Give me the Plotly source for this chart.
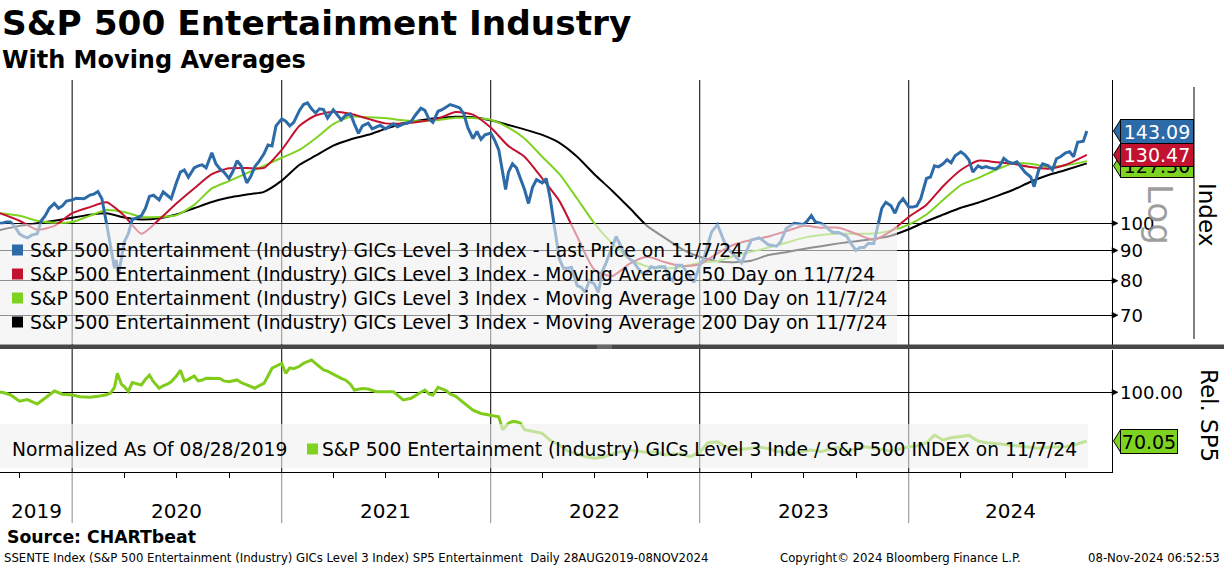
import math
import plotly.graph_objects as go

W, H = 1224, 566

# ---------------- data ----------------
price = [
    ("2019-08-28", 100), ("2019-09-01", 100), ("2019-09-08", 100.5), ("2019-09-15", 100.5), ("2019-09-22", 99),
    ("2019-10-01", 96), ("2019-10-08", 95), ("2019-10-15", 94.5), ("2019-10-22", 95.5), ("2019-11-01", 96),
    ("2019-11-08", 101), ("2019-11-15", 103), ("2019-11-22", 106), ("2019-12-01", 108), ("2019-12-08", 106),
    ("2019-12-15", 107), ("2019-12-22", 109),
    ("2020-01-01", 109.5), ("2020-01-08", 110.2), ("2020-01-15", 110), ("2020-01-22", 110), ("2020-02-01", 111.6),
    ("2020-02-08", 112), ("2020-02-15", 113.1), ("2020-02-22", 110), ("2020-03-01", 100), ("2020-03-08", 91.3),
    ("2020-03-15", 84), ("2020-03-18", 86.7), ("2020-03-22", 81.8), ("2020-04-01", 93), ("2020-04-08", 96),
    ("2020-04-15", 101.5), ("2020-04-22", 102), ("2020-05-01", 103), ("2020-05-08", 106), ("2020-05-15", 111),
    ("2020-05-22", 111.5), ("2020-06-01", 109.5), ("2020-06-08", 113), ("2020-06-15", 111.5), ("2020-06-22", 110),
    ("2020-07-01", 117), ("2020-07-08", 122), ("2020-07-15", 123), ("2020-07-22", 119.6), ("2020-08-01", 124),
    ("2020-08-08", 125), ("2020-08-15", 125.5), ("2020-08-22", 124), ("2020-09-01", 131.5), ("2020-09-08", 126),
    ("2020-09-15", 123.5), ("2020-09-22", 122), ("2020-10-01", 119), ("2020-10-08", 122.5), ("2020-10-15", 127.5),
    ("2020-10-22", 125), ("2020-11-01", 117), ("2020-11-08", 120), ("2020-11-15", 124.6), ("2020-11-22", 127),
    ("2020-12-01", 131), ("2020-12-08", 135.5), ("2020-12-15", 135), ("2020-12-22", 146),
    ("2021-01-01", 150), ("2021-01-08", 148.6), ("2021-01-15", 146), ("2021-01-22", 148), ("2021-02-01", 155),
    ("2021-02-08", 158.6), ("2021-02-15", 159.6), ("2021-02-22", 156), ("2021-03-01", 153.5), ("2021-03-08", 156),
    ("2021-03-15", 155.5), ("2021-03-22", 150.5), ("2021-04-01", 155.4), ("2021-04-08", 152), ("2021-04-15", 149.4),
    ("2021-04-22", 152), ("2021-05-01", 153), ("2021-05-08", 147), ("2021-05-15", 141.8), ("2021-05-22", 146),
    ("2021-06-01", 147.5), ("2021-06-08", 144.3), ("2021-06-15", 145.5), ("2021-06-22", 146.3), ("2021-07-01", 144.3),
    ("2021-07-08", 146), ("2021-07-15", 147.2), ("2021-07-22", 145.5), ("2021-08-01", 147), ("2021-08-08", 147.5),
    ("2021-08-15", 148.5), ("2021-08-22", 152), ("2021-09-01", 156.3), ("2021-09-08", 155), ("2021-09-15", 150),
    ("2021-09-22", 148), ("2021-10-01", 154.5), ("2021-10-08", 155.4), ("2021-10-15", 157), ("2021-10-22", 158.6),
    ("2021-11-01", 157.5), ("2021-11-08", 156.5), ("2021-11-15", 153), ("2021-11-22", 145), ("2021-12-01", 139),
    ("2021-12-08", 142.8), ("2021-12-15", 138.5), ("2021-12-22", 141),
    ("2022-01-01", 142), ("2022-01-08", 138), ("2022-01-15", 133), ("2022-01-22", 122), ("2022-01-27", 114),
    ("2022-02-01", 122), ("2022-02-08", 126), ("2022-02-15", 124), ("2022-02-22", 119), ("2022-03-01", 114),
    ("2022-03-08", 108), ("2022-03-15", 115), ("2022-03-22", 118.5), ("2022-04-01", 117), ("2022-04-08", 119),
    ("2022-04-15", 110), ("2022-04-22", 99), ("2022-05-01", 87), ("2022-05-08", 84), ("2022-05-15", 84),
    ("2022-05-22", 84.3), ("2022-06-01", 78.5), ("2022-06-08", 78), ("2022-06-15", 76.5), ("2022-06-22", 80),
    ("2022-07-01", 79), ("2022-07-08", 76.5), ("2022-07-15", 83), ("2022-07-22", 86), ("2022-08-01", 91),
    ("2022-08-08", 95), ("2022-08-15", 92), ("2022-08-22", 89), ("2022-09-01", 87), ("2022-09-08", 86),
    ("2022-09-15", 84), ("2022-09-22", 82.5), ("2022-10-01", 82.5), ("2022-10-08", 84.5), ("2022-10-15", 84),
    ("2022-10-22", 84.5), ("2022-11-01", 84.5), ("2022-11-08", 81), ("2022-11-15", 80), ("2022-11-22", 85),
    ("2022-12-01", 85), ("2022-12-08", 83), ("2022-12-15", 81), ("2022-12-22", 79.5),
    ("2023-01-01", 85), ("2023-01-08", 87), ("2023-01-15", 92), ("2023-01-22", 96.8), ("2023-02-01", 99.5),
    ("2023-02-08", 96), ("2023-02-15", 92), ("2023-02-22", 90), ("2023-03-01", 88.5), ("2023-03-08", 87),
    ("2023-03-15", 85.8), ("2023-03-22", 89), ("2023-04-01", 93.7), ("2023-04-15", 94.5), ("2023-05-01", 92),
    ("2023-05-15", 91.5), ("2023-05-22", 93), ("2023-06-01", 98), ("2023-06-08", 99), ("2023-06-15", 100),
    ("2023-07-01", 99.5), ("2023-07-08", 101), ("2023-07-15", 103), ("2023-07-22", 100.5), ("2023-08-01", 100),
    ("2023-08-08", 99), ("2023-08-15", 97.5), ("2023-08-22", 96.5), ("2023-09-01", 96.5), ("2023-09-15", 95),
    ("2023-09-22", 92.5), ("2023-10-01", 90), ("2023-10-08", 91), ("2023-10-15", 91), ("2023-10-22", 92.5),
    ("2023-11-01", 92.5), ("2023-11-08", 99), ("2023-11-15", 106), ("2023-11-22", 108.5), ("2023-12-01", 107),
    ("2023-12-08", 104), ("2023-12-15", 108), ("2023-12-22", 110),
    ("2024-01-01", 106.5), ("2024-01-08", 106.5), ("2024-01-15", 107), ("2024-01-22", 110), ("2024-02-01", 119),
    ("2024-02-08", 119.7), ("2024-02-15", 125), ("2024-02-22", 124.5), ("2024-03-01", 126), ("2024-03-08", 128),
    ("2024-03-15", 126.5), ("2024-03-22", 130), ("2024-04-01", 132), ("2024-04-08", 130.5), ("2024-04-15", 128),
    ("2024-04-22", 122), ("2024-05-01", 125), ("2024-05-08", 124), ("2024-05-15", 124.6), ("2024-05-22", 124),
    ("2024-06-01", 123.5), ("2024-06-08", 125), ("2024-06-15", 128.7), ("2024-06-22", 127), ("2024-07-01", 126.2),
    ("2024-07-08", 127), ("2024-07-15", 124.5), ("2024-07-22", 122), ("2024-08-01", 119.7), ("2024-08-07", 115.3),
    ("2024-08-15", 123), ("2024-08-22", 126), ("2024-09-01", 125), ("2024-09-08", 123), ("2024-09-15", 128.5),
    ("2024-09-22", 129.5), ("2024-10-01", 131.5), ("2024-10-08", 132), ("2024-10-15", 129.5), ("2024-10-22", 137),
    ("2024-11-01", 137.5), ("2024-11-07", 143.09),
]

ma_dates = [
    "2019-08-28", "2019-10-01", "2019-11-01", "2019-12-01",
    "2020-01-01", "2020-02-01", "2020-03-01", "2020-04-01", "2020-05-01", "2020-06-01",
    "2020-07-01", "2020-08-01", "2020-09-01", "2020-10-01", "2020-11-01", "2020-12-01",
    "2021-01-01", "2021-02-01", "2021-03-01", "2021-04-01", "2021-05-01", "2021-06-01",
    "2021-07-01", "2021-08-01", "2021-09-01", "2021-10-01", "2021-11-01", "2021-12-01",
    "2022-01-01", "2022-02-01", "2022-03-01", "2022-04-01", "2022-05-01", "2022-06-01",
    "2022-07-01", "2022-08-01", "2022-09-01", "2022-10-01", "2022-11-01", "2022-12-01",
    "2023-01-01", "2023-02-01", "2023-03-01", "2023-04-01", "2023-05-01", "2023-06-01",
    "2023-07-01", "2023-08-01", "2023-09-01", "2023-10-01", "2023-11-01", "2023-12-01",
    "2024-01-01", "2024-02-01", "2024-03-01", "2024-04-01", "2024-05-01", "2024-06-01",
    "2024-07-01", "2024-08-01", "2024-09-01", "2024-10-01", "2024-11-07",
]
ma50 = [
    104, 101, 97.5, 99,
    104, 106.5, 108.5, 103, 96, 101.5,
    108, 114.5, 121, 123.8, 124, 124,
    133, 146, 152, 154.2, 153, 150,
    147.4, 147.4, 148.5, 150.3, 154, 152.5,
    145, 135, 129.5, 119, 109, 95,
    83.5, 81.5, 85.5, 87.8, 86, 84.7,
    85.3, 89, 92, 93.7, 95, 97,
    99, 98.3, 98.3, 96, 93.8, 97,
    102.5, 107.5, 115.5, 123, 127.5, 126.8,
    126, 124.4, 123.6, 125.5, 130.47,
]
ma100 = [
    104, 103, 101, 100.2,
    100.5, 103, 105.3, 104.5, 102.5, 102.5,
    103.2, 107.4, 114.5, 117.8, 121.5, 125,
    129, 133, 139, 147, 151.3, 151,
    150.5, 149.2, 148.6, 149.4, 150.6, 150.5,
    149.5, 145, 139, 129.5, 121, 110,
    100, 92.5, 87, 84.6, 84, 84.5,
    85.8, 86.4, 88, 89.5, 91, 92.7,
    94.5, 95.6, 96, 96, 96.1, 97.2,
    99.5, 103.5, 109.5, 116, 119.2, 123,
    126.2, 126, 124.5, 125.2, 127.3,
]
ma200 = [
    97.4, 99, 100, 101,
    102.2, 103.4, 104, 102.3, 101.5, 102,
    103.5, 106, 108.6, 110.5, 111.8, 113,
    118, 125.5, 130, 135.2, 138.5, 141,
    144.3, 147.5, 149.2, 150.5, 151.2, 151,
    149.2, 146.5, 144, 141, 136.7, 129.5,
    121, 113.5, 106, 99, 94.5, 90.5,
    87.8, 86.3, 86, 86.5, 88.4, 89.4,
    90.5, 91.5, 92.5, 93.3, 94.1, 95.3,
    97.7, 100.8, 103.4, 106.2, 108.3, 111,
    113.8, 117.5, 120.6, 123, 126.2,
]

rel = [
    ("2019-08-28", 100), ("2019-09-01", 100), ("2019-09-15", 98.5), ("2019-10-01", 94.5), ("2019-10-15", 95.5),
    ("2019-11-01", 92.8), ("2019-11-15", 96.5), ("2019-12-01", 100.8), ("2019-12-15", 98.8),
    ("2020-01-01", 98.3), ("2020-01-15", 97.3), ("2020-02-01", 97), ("2020-02-15", 97.5), ("2020-03-01", 98.5),
    ("2020-03-08", 99.5), ("2020-03-15", 103), ("2020-03-20", 111.7), ("2020-03-27", 105), ("2020-04-01", 103.5),
    ("2020-04-08", 100.5), ("2020-04-15", 106), ("2020-04-22", 105.5), ("2020-05-01", 104.5), ("2020-05-08", 108),
    ("2020-05-15", 110.5), ("2020-05-22", 106.5), ("2020-06-01", 102.5), ("2020-06-08", 104), ("2020-06-15", 105),
    ("2020-06-22", 106.5), ("2020-07-01", 110), ("2020-07-08", 113.5), ("2020-07-15", 107), ("2020-07-22", 108),
    ("2020-08-01", 110), ("2020-08-08", 107), ("2020-08-15", 107.5), ("2020-08-22", 108.6), ("2020-09-01", 108.6),
    ("2020-09-15", 108.5), ("2020-09-22", 107), ("2020-10-01", 106.5), ("2020-10-15", 107.6), ("2020-10-22", 106),
    ("2020-11-01", 104.5), ("2020-11-08", 103.5), ("2020-11-15", 102.5), ("2020-11-22", 104), ("2020-12-01", 105.5),
    ("2020-12-08", 110), ("2020-12-15", 114.8), ("2020-12-22", 116),
    ("2021-01-01", 117.8), ("2021-01-08", 111.7), ("2021-01-15", 115), ("2021-01-22", 114.5), ("2021-02-01", 116),
    ("2021-02-08", 117.8), ("2021-02-15", 119), ("2021-02-22", 119.9), ("2021-03-01", 117.8), ("2021-03-08", 116),
    ("2021-03-15", 113.7), ("2021-03-22", 113), ("2021-04-01", 111), ("2021-04-08", 109.5), ("2021-04-15", 108.6),
    ("2021-04-22", 107.6), ("2021-05-01", 105), ("2021-05-08", 101.4), ("2021-05-15", 101.8), ("2021-05-22", 102.3),
    ("2021-06-01", 102), ("2021-06-15", 100.4), ("2021-07-01", 100.4), ("2021-07-15", 100.4), ("2021-08-01", 95.3),
    ("2021-08-15", 96.3), ("2021-09-01", 100), ("2021-09-08", 101.4), ("2021-09-15", 99), ("2021-09-22", 98.3),
    ("2021-10-01", 103), ("2021-10-15", 101), ("2021-10-22", 99), ("2021-11-01", 97.5), ("2021-11-15", 93.5),
    ("2021-12-01", 89), ("2021-12-15", 87),
    ("2022-01-01", 86), ("2022-01-08", 85.5), ("2022-01-15", 85), ("2022-01-22", 77), ("2022-02-01", 81),
    ("2022-02-08", 82), ("2022-02-15", 81.9), ("2022-02-22", 81), ("2022-03-01", 77), ("2022-03-15", 76),
    ("2022-04-01", 74.8), ("2022-04-15", 70.5), ("2022-05-01", 67.6), ("2022-05-15", 64), ("2022-06-01", 62),
    ("2022-06-15", 60.5), ("2022-07-01", 59.4), ("2022-07-15", 60), ("2022-08-01", 62), ("2022-08-15", 63.5),
    ("2022-09-01", 64.5), ("2022-09-15", 63.8), ("2022-10-01", 63), ("2022-10-15", 63.5), ("2022-11-01", 61.5),
    ("2022-11-15", 62), ("2022-12-01", 62), ("2022-12-15", 60.5),
    ("2023-01-01", 63), ("2023-01-15", 69), ("2023-02-01", 69.5), ("2023-02-15", 66.5), ("2023-03-01", 64.5),
    ("2023-03-15", 65), ("2023-04-01", 65.6), ("2023-04-15", 66.2), ("2023-05-01", 65.5), ("2023-05-15", 63.8),
    ("2023-06-01", 63), ("2023-06-15", 62.5), ("2023-07-01", 63.8), ("2023-07-15", 64.5), ("2023-08-01", 63.5),
    ("2023-08-15", 65), ("2023-09-01", 66), ("2023-09-15", 64), ("2023-10-01", 65), ("2023-10-15", 66.5),
    ("2023-11-01", 65.8), ("2023-11-15", 65), ("2023-12-01", 63.8), ("2023-12-15", 65),
    ("2024-01-01", 66.5), ("2024-01-15", 67), ("2024-02-01", 69), ("2024-02-15", 73.7), ("2024-03-01", 70.7),
    ("2024-03-15", 72), ("2024-04-01", 72.7), ("2024-04-15", 73.5), ("2024-05-01", 70), ("2024-05-15", 69),
    ("2024-06-01", 68.5), ("2024-06-15", 68), ("2024-07-01", 67), ("2024-07-15", 66.5), ("2024-08-01", 66),
    ("2024-08-15", 65.6), ("2024-09-01", 66.2), ("2024-09-15", 66.5), ("2024-10-01", 66.5), ("2024-10-15", 67.5),
    ("2024-11-01", 69.2), ("2024-11-07", 70.05),
]

price_dates = [d for d, _ in price]
price_vals = [v for _, v in price]
rel_dates = [d for d, _ in rel]
rel_vals = [v for _, v in rel]

year_starts = ["2020-01-01", "2021-01-01", "2022-01-01", "2023-01-01", "2024-01-01"]
year_labels = ["2019", "2020", "2021", "2022", "2023", "2024"]
year_label_at = ["2019-10-30", "2020-07-02", "2021-07-02", "2022-07-02", "2023-07-02", "2024-06-26"]
price_ticks = [70, 80, 90, 100]
rel_ticks = [100]

last_price, last_ma50, last_ma100 = 143.09, 130.47, 127.3
last_rel = 70.05

# ---------------- geometry ----------------
X_START, X_END = "2019-08-28", "2024-12-21"
PLOT_R = 1112
TOP0, TOP1 = 80, 345
BOT0, BOT1 = 350, 472
LOG_HI, LOG_LO = 2.24165, 1.79477
REL_LO, REL_HI = 51.0, 126.0

FONT = "DejaVu Sans"
BLUE, RED, GREEN, BLACK = "#2c6aa8", "#c3122f", "#7ed321", "#000000"


def fx(p):
    return p / W


def fy(p):
    return 1 - p / H


def top_px(v):
    return TOP0 + (LOG_HI - math.log10(v)) / (LOG_HI - LOG_LO) * (TOP1 - TOP0)


def bot_px(v):
    return BOT0 + (REL_HI - v) / (REL_HI - REL_LO) * (BOT1 - BOT0)


fig = go.Figure()
fig.add_trace(go.Scatter(x=ma_dates, y=ma200, mode="lines", line=dict(color=BLACK, width=2, shape="spline", smoothing=0.6),
                         xaxis="x", yaxis="y", hoverinfo="skip"))
fig.add_trace(go.Scatter(x=ma_dates, y=ma100, mode="lines", line=dict(color=GREEN, width=2, shape="spline", smoothing=0.6),
                         xaxis="x", yaxis="y", hoverinfo="skip"))
fig.add_trace(go.Scatter(x=ma_dates, y=ma50, mode="lines", line=dict(color=RED, width=2, shape="spline", smoothing=0.6),
                         xaxis="x", yaxis="y", hoverinfo="skip"))
fig.add_trace(go.Scatter(x=price_dates, y=price_vals, mode="lines", line=dict(color=BLUE, width=3),
                         xaxis="x", yaxis="y", hoverinfo="skip"))
fig.add_trace(go.Scatter(x=rel_dates, y=rel_vals, mode="lines", line=dict(color="#80cc1a", width=3),
                         xaxis="x2", yaxis="y2", hoverinfo="skip"))

shapes = []
annotations = []

# vertical year lines
for d in year_starts:
    shapes.append(dict(type="line", xref="x", yref="paper", x0=d, x1=d, y0=fy(TOP0), y1=fy(BOT1),
                       line=dict(color="black", width=1), layer="below"))
    shapes.append(dict(type="line", xref="x", yref="paper", x0=d, x1=d, y0=fy(BOT1), y1=fy(523),
                       line=dict(color="#8c8c8c", width=1), layer="below"))

# legend overlay (top)
LEG_SIZE = 18.7
shapes.append(dict(type="rect", xref="paper", yref="paper", x0=fx(0), x1=fx(897), y0=fy(344), y1=fy(224),
                   fillcolor="rgba(240,240,240,0.6)", line=dict(width=0), layer="above"))
leg_rows = [250, 274, 298, 322]
leg_cols = [BLUE, RED, GREEN, BLACK]
leg_txt = [
    "S&P 500 Entertainment (Industry) GICs Level 3 Index - Last Price on 11/7/24",
    "S&P 500 Entertainment (Industry) GICs Level 3 Index - Moving Average 50 Day on 11/7/24",
    "S&P 500 Entertainment (Industry) GICs Level 3 Index - Moving Average 100 Day on 11/7/24",
    "S&P 500 Entertainment (Industry) GICs Level 3 Index - Moving Average 200 Day on 11/7/24",
]
for yy, c, t in zip(leg_rows, leg_cols, leg_txt):
    shapes.append(dict(type="rect", xref="paper", yref="paper", x0=fx(12), x1=fx(23), y0=fy(yy + 5.5), y1=fy(yy - 5.5),
                       fillcolor=c, line=dict(width=0), layer="above"))
    annotations.append(dict(text=t, xref="paper", yref="paper", x=fx(28), y=fy(yy), xanchor="left", yanchor="middle",
                            showarrow=False, font=dict(family=FONT, size=LEG_SIZE, color="black")))

# legend overlay (bottom)
shapes.append(dict(type="rect", xref="paper", yref="paper", x0=fx(0), x1=fx(1088), y0=fy(468), y1=fy(424),
                   fillcolor="rgba(240,240,240,0.6)", line=dict(width=0), layer="above"))
annotations.append(dict(text="Normalized As Of 08/28/2019", xref="paper", yref="paper", x=fx(10), y=fy(449),
                        xanchor="left", yanchor="middle", showarrow=False,
                        font=dict(family=FONT, size=LEG_SIZE, color="black")))
shapes.append(dict(type="rect", xref="paper", yref="paper", x0=fx(307), x1=fx(318), y0=fy(454.5), y1=fy(443.5),
                   fillcolor=GREEN, line=dict(width=0), layer="above"))
annotations.append(dict(text="S&P 500 Entertainment (Industry) GICs Level 3 Inde / S&P 500 INDEX on 11/7/24",
                        xref="paper", yref="paper", x=fx(320), y=fy(449), xanchor="left", yanchor="middle",
                        showarrow=False, font=dict(family=FONT, size=LEG_SIZE, color="black")))

# divider between panels
shapes.append(dict(type="rect", xref="paper", yref="paper", x0=0, x1=1, y0=fy(349), y1=fy(344.5),
                   fillcolor="#474747", line=dict(width=0), layer="above"))
for yy in (346, 348):
    shapes.append(dict(type="line", xref="paper", yref="paper", x0=fx(597), x1=fx(612), y0=fy(yy), y1=fy(yy),
                       line=dict(color="#9a9a9a", width=0.8), layer="above"))

# second vertical line near right edge (top panel)
shapes.append(dict(type="line", xref="paper", yref="paper", x0=fx(1194), x1=fx(1194), y0=fy(87), y1=fy(339),
                   line=dict(color="black", width=1)))


def arrow(yp):
    return dict(type="path", xref="paper", yref="paper",
                path=f"M {fx(PLOT_R)},{fy(yp - 3)} L {fx(PLOT_R + 6)},{fy(yp)} L {fx(PLOT_R)},{fy(yp + 3)} Z",
                fillcolor="black", line=dict(color="black", width=0.5))


for v in price_ticks:
    yp = top_px(v)
    shapes.append(arrow(yp))
    annotations.append(dict(text=str(v), xref="paper", yref="paper", x=fx(1118), y=fy(yp), xanchor="left",
                            yanchor="middle", showarrow=False, font=dict(family=FONT, size=18, color="black")))
for v in rel_ticks:
    yp = bot_px(v)
    shapes.append(arrow(yp))
    annotations.append(dict(text=f"{v:.2f}", xref="paper", yref="paper", x=fx(1118), y=fy(yp), xanchor="left",
                            yanchor="middle", showarrow=False, font=dict(family=FONT, size=18, color="black")))

# rotated labels
annotations.append(dict(text="Log", xref="paper", yref="paper", x=fx(1160), y=fy(214), xanchor="center", yanchor="middle",
                        textangle=90, showarrow=False, font=dict(family=FONT, size=34, color="rgba(140,140,140,0.85)")))
annotations.append(dict(text="Index", xref="paper", yref="paper", x=fx(1207), y=fy(214), xanchor="center", yanchor="middle",
                        textangle=90, showarrow=False, font=dict(family=FONT, size=23, color="black")))
annotations.append(dict(text="Rel. SP5", xref="paper", yref="paper", x=fx(1209), y=fy(415), xanchor="center",
                        yanchor="middle", textangle=90, showarrow=False, font=dict(family=FONT, size=23, color="black")))


# value tags
def tag(yc, fill, txt, tcol, wbox):
    shapes.append(dict(type="path", xref="paper", yref="paper",
                       path=(f"M {fx(PLOT_R + 1.5)},{fy(yc)} L {fx(1121)},{fy(yc - 12)} L {fx(1121)},{fy(yc + 12)} Z"),
                       fillcolor=fill, line=dict(color="black", width=1)))
    annotations.append(dict(text=txt, xref="paper", yref="paper", x=fx(1120), y=fy(yc), xanchor="left",
                            yanchor="middle", showarrow=False, width=wbox, height=21, bgcolor=fill,
                            bordercolor="black", borderwidth=1, borderpad=1, align="center",
                            font=dict(family=FONT, size=19, color=tcol)))


y_blue = top_px(last_price)
y_red = top_px(last_ma50)
y_green = max(top_px(last_ma100), y_red + 11)
tag(y_green, GREEN, f"{last_ma100:.2f}", "black", 70)
tag(y_red, RED, f"{last_ma50:.2f}", "white", 70)
tag(y_blue, BLUE, f"{last_price:.2f}", "white", 70)
tag(bot_px(last_rel), GREEN, f"{last_rel:.2f}", "black", 54)

# year labels
for lab, d in zip(year_labels, year_label_at):
    annotations.append(dict(text=lab, xref="x2", yref="paper", x=d, y=fy(511), xanchor="center", yanchor="middle",
                            showarrow=False, font=dict(family=FONT, size=20, color="black")))

# titles & footer
annotations.append(dict(text="<b>S&P 500 Entertainment Industry</b>", xref="paper", yref="paper", x=0, y=fy(23),
                        xanchor="left", yanchor="middle", showarrow=False, font=dict(family=FONT, size=34.3, color="black")))
annotations.append(dict(text="<b>With Moving Averages</b>", xref="paper", yref="paper", x=0, y=fy(60),
                        xanchor="left", yanchor="middle", showarrow=False, font=dict(family=FONT, size=24, color="black")))
annotations.append(dict(text="<b>Source: CHARTbeat</b>", xref="paper", yref="paper", x=fx(5), y=fy(537),
                        xanchor="left", yanchor="middle", showarrow=False, font=dict(family=FONT, size=17.3, color="black")))
FOOT = "Liberation Sans Narrow, DejaVu Sans Condensed, Arial Narrow, sans-serif"
annotations.append(dict(text="SSENTE Index (S&P 500 Entertainment (Industry) GICs Level 3 Index) SP5 Entertainment  Daily 28AUG2019-08NOV2024",
                        xref="paper", yref="paper", x=fx(2), y=fy(557), xanchor="left", yanchor="middle",
                        showarrow=False, font=dict(family=FOOT, size=13, color="black")))
annotations.append(dict(text="Copyright© 2024 Bloomberg Finance L.P.", xref="paper", yref="paper", x=fx(778), y=fy(557),
                        xanchor="left", yanchor="middle", showarrow=False, font=dict(family=FOOT, size=13, color="black")))
annotations.append(dict(text="08-Nov-2024 06:52:53", xref="paper", yref="paper", x=fx(1222), y=fy(557),
                        xanchor="right", yanchor="middle", showarrow=False, font=dict(family=FOOT, size=13, color="black")))

fig.update_layout(
    width=W, height=H, margin=dict(l=0, r=0, t=0, b=0, pad=0),
    paper_bgcolor="white", plot_bgcolor="white", showlegend=False,
    xaxis=dict(domain=[0, fx(PLOT_R)], range=[X_START, X_END], type="date", anchor="y",
               showgrid=False, showticklabels=False, ticks="", zeroline=False, showline=False),
    yaxis=dict(domain=[fy(TOP1), fy(TOP0)], type="log", range=[LOG_LO, LOG_HI], side="right", anchor="x",
               tickmode="array", tickvals=price_ticks, showticklabels=False, ticks="",
               showgrid=True, gridcolor="black", gridwidth=1, zeroline=False,
               showline=True, linecolor="black", linewidth=1),
    xaxis2=dict(domain=[0, fx(PLOT_R)], range=[X_START, X_END], type="date", anchor="y2", matches="x",
                showgrid=False, showticklabels=False, ticks="", zeroline=False,
                showline=True, linecolor="black", linewidth=1,
                minor=dict(ticks="outside", ticklen=5, tickcolor="black", dtick="M3", tick0="2019-10-01", showgrid=False)),
    yaxis2=dict(domain=[fy(BOT1), fy(BOT0)], range=[REL_LO, REL_HI], side="right", anchor="x2",
                tickmode="array", tickvals=rel_ticks, showticklabels=False, ticks="",
                showgrid=True, gridcolor="black", gridwidth=1, zeroline=False,
                showline=True, linecolor="black", linewidth=1),
    shapes=shapes, annotations=annotations,
)

fig.write_html(
    "out.html",
    config={"displayModeBar": False},
    post_script="document.body.style.margin='0px';document.body.style.padding='0px';document.body.style.overflow='hidden';",
)
